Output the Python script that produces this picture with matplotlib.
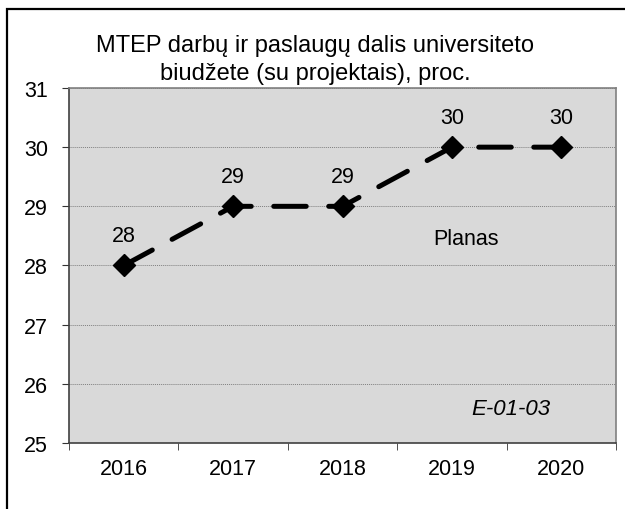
import matplotlib.pyplot as plt
from matplotlib.patches import Rectangle

plt.rcParams['font.family'] = ['Liberation Sans', 'DejaVu Sans']

years = ["2016", "2017", "2018", "2019", "2020"]
values = [28, 29, 29, 30, 30]
title = "MTEP darbų ir paslaugų dalis universiteto\nbiudžete (su projektais), proc."

fig = plt.figure(figsize=(6.25, 5.1), dpi=100)
ax = fig.add_axes([69 / 625, 66 / 510, 547 / 625, 355 / 510])
ax.set_facecolor("#d9d9d9")

x = range(len(years))
ax.plot(x, values, color="black", lw=3.6, dashes=(6.5, 4.5), dash_capstyle="round",
        marker="D", markersize=11, markerfacecolor="black", markeredgecolor="black", zorder=3)

for xi, v in zip(x, values):
    ax.annotate(f"{v}", (xi, v), textcoords="offset points", xytext=(0, 21.6),
                ha="center", va="center", fontsize=15.5)

ax.set_xlim(-0.5, len(years) - 0.5)
ax.set_ylim(25, 31)
ax.set_yticks(range(25, 32))
ax.set_xticks(list(x))
ax.set_xticklabels(years)
ax.set_xticks([i - 0.5 for i in range(len(years) + 1)], minor=True)
ax.tick_params(axis="x", which="major", length=0, labelsize=15.5, pad=11)
ax.tick_params(axis="x", which="minor", length=5, direction="out", color="#333333")
ax.tick_params(axis="y", length=5, direction="out", labelsize=15.5, pad=10, color="#333333")

ax.grid(axis="y", color="#808080", linestyle=(0, (1, 1)), linewidth=0.7)
for side in ["top", "right"]:
    ax.spines[side].set_color("#808080")
for side in ["left", "bottom"]:
    ax.spines[side].set_color("#404040")
for s in ax.spines.values():
    s.set_linewidth(1.2)

ax.text(2.83, 28.45, "Planas", fontsize=15.5, ha="left", va="center")
ax.text(3.54, 25.58, "E-01-03", fontsize=16, style="italic", ha="center", va="center")

fig.text(315 / 625, 1 - 60 / 510, title, ha="center", va="center", fontsize=17, linespacing=1.33)

fig.patches.append(Rectangle((7 / 625, -0.1), 2, 1.1 - 10 / 510, transform=fig.transFigure,
                             fill=False, edgecolor="black", linewidth=1.6))

plt.savefig("out.png", dpi=100)
